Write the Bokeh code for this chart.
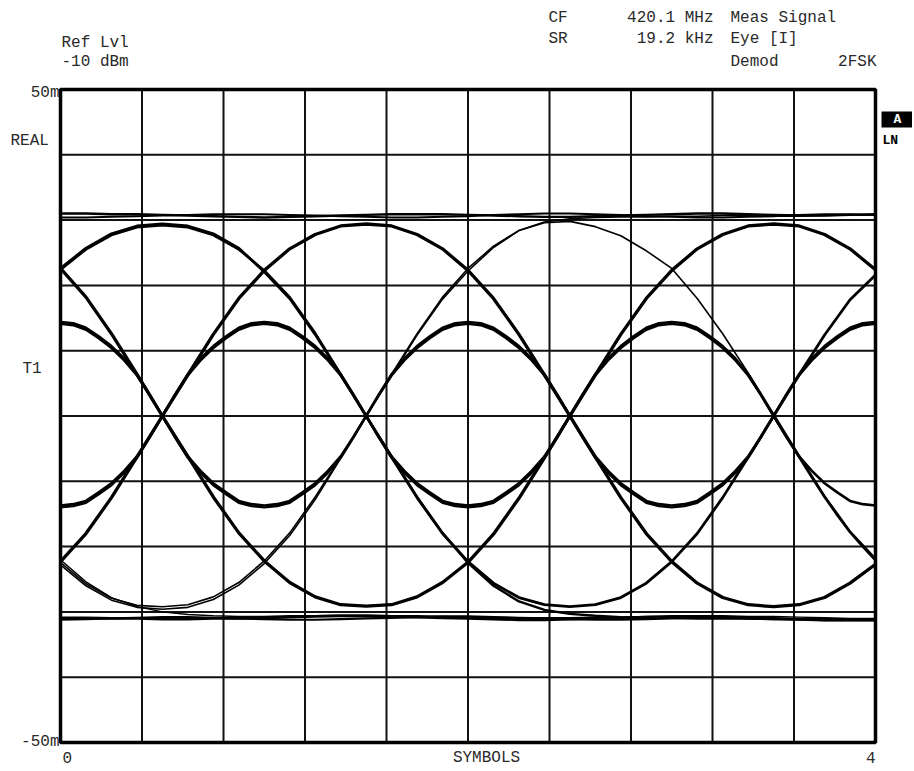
from bokeh.plotting import figure
from bokeh.models import Label, Range1d
from bokeh.embed import file_html
from bokeh.resources import INLINE

# ---------------- data ----------------
SYMBOL_TIME = [0.0, 0.125, 0.25, 0.375, 0.5, 0.625, 0.75, 0.875, 1.0, 1.125, 1.25,
               1.375, 1.5, 1.625, 1.75, 1.875, 2.0, 2.125, 2.25, 2.375, 2.5, 2.625,
               2.75, 2.875, 3.0, 3.125, 3.25, 3.375, 3.5, 3.625, 3.75, 3.875, 4.0]

SYMBOL_TIME_FINE = [0.0, 0.0625, 0.125, 0.1875, 0.25, 0.3125, 0.375, 0.4375, 0.5,
                    0.5625, 0.625, 0.6875, 0.75, 0.8125, 0.875, 0.9375, 1.0,
                    1.0625, 1.125, 1.1875, 1.25, 1.3125, 1.375, 1.4375, 1.5,
                    1.5625, 1.625, 1.6875, 1.75, 1.8125, 1.875, 1.9375, 2.0,
                    2.0625, 2.125, 2.1875, 2.25, 2.3125, 2.375, 2.4375, 2.5,
                    2.5625, 2.625, 2.6875, 2.75, 2.8125, 2.875, 2.9375, 3.0,
                    3.0625, 3.125, 3.1875, 3.25, 3.3125, 3.375, 3.4375, 3.5,
                    3.5625, 3.625, 3.6875, 3.75, 3.8125, 3.875, 3.9375, 4.0]

X_GRID = [0.0, 0.4, 0.8, 1.2, 1.6, 2.0, 2.4, 2.8, 3.2, 3.6, 4.0]
Y_GRID = [-50, -40, -30, -20, -10, 0, 10, 20, 30, 40, 50]

# outer arcs (mV), sampled on SYMBOL_TIME
outer_a = [22.6, 25.7, 27.9, 29.1, 29.4, 29.1, 27.9, 25.7, 22.1, 18.0, 12.5, 6.3, 0.0,
           -6.3, -12.5, -18.0, -22.3, -25.6, -27.8, -28.9, -29.2, -28.9, -27.8, -25.6,
           -22.3, -18.0, -12.5, -6.3, 0.0, 6.3, 12.4, 17.8, 21.6]
outer_a2 = [22.4, 25.5, 27.7, 28.9, 29.2, 28.9, 27.7, 25.5, 22.3, 18.2, 12.7, 6.4, 0.0,
            -6.2, -12.4, -17.9, -22.5, -26.0, -28.4, -29.7, -30.3, -30.6, -30.8, -30.9,
            -30.9, -31.0, -31.0, -31.0, -31.1, -31.1, -31.1, -31.2, -31.2]
outer_b = [-22.3, -18.0, -12.5, -6.3, 0.0, 6.3, 12.5, 18.0, 22.3, 25.6, 27.8, 29.1, 29.4,
           29.1, 27.8, 25.6, 22.3, 18.0, 12.5, 6.3, 0.0, -6.3, -12.5, -18.0, -22.3,
           -25.6, -27.8, -28.9, -29.2, -28.9, -27.8, -25.6, -22.7]
outer_c = [22.6, 18.2, 12.6, 6.4, 0.0, -6.2, -12.4, -17.9, -22.2, -25.5, -27.7, -28.9,
           -29.1, -28.9, -27.7, -25.5, -22.4, -18.1, -12.6, -6.4, 0.0, 6.3, 12.5, 18.0,
           22.3, 25.6, 27.8, 29.1, 29.4, 29.1, 27.8, 25.6, 22.4]
outer_d = [-22.4, -25.7, -27.9, -29.0, -29.2, -28.9, -27.7, -25.5, -22.2, -17.9, -12.4,
           -6.3, 0.0, 6.4, 12.6, 18.2, 22.6, 26.0, 28.4, 29.6, 29.8, 29.0, 27.6, 25.3,
           22.6, 18.0, 12.6, 6.6, 0.3, -6.0, -12.2, -17.6, -21.8]
outer_e = [-22.8, -26.0, -28.2, -29.3, -29.6, -29.3, -28.1, -25.9, -22.6, -18.3, -12.8,
           -6.5, 0.0, 6.2, 12.4, 17.9, 22.2, 25.8, 28.4, 29.7, 30.2, 30.4, 30.5, 30.5,
           30.6, 30.6, 30.7, 30.7, 30.6, 30.6, 30.7, 30.8, 30.8]
outer_f = [-22.0, -25.4, -27.8, -29.2, -30.0, -30.4, -30.6, -30.7, -30.7, -30.6, -30.6,
           -30.5, -30.5, -30.6, -30.6, -30.7, -30.8, -30.8, -30.9, -30.9, -30.9, -30.8,
           -30.8, -30.7, -30.7, -30.6, -30.6, -30.7, -30.7, -30.8, -30.9, -31.0, -31.0]

# flat levels (mV), sampled on SYMBOL_TIME
flat_top_a = [31.0, 31.0, 30.9, 30.9, 30.8, 30.7, 30.6, 30.5, 30.4, 30.5, 30.6, 30.7, 30.8,
              30.9, 30.9, 30.9, 30.8, 30.7, 30.6, 30.5, 30.5, 30.6, 30.7, 30.8, 30.9, 31.0,
              31.0, 30.9, 30.8, 30.7, 30.7, 30.8, 30.9]
flat_top_b = [30.4, 30.4, 30.5, 30.6, 30.7, 30.8, 30.9, 30.9, 30.9, 30.8, 30.7, 30.6, 30.5,
              30.4, 30.4, 30.5, 30.6, 30.8, 30.9, 31.0, 31.0, 30.9, 30.8, 30.6, 30.5, 30.4,
              30.4, 30.5, 30.6, 30.8, 30.9, 30.9, 30.8]
flat_bot_a = [-30.9, -30.9, -31.0, -31.0, -31.1, -31.1, -31.0, -31.0, -30.9, -30.8, -30.7,
              -30.6, -30.6, -30.7, -30.8, -30.9, -31.0, -31.1, -31.2, -31.2, -31.1, -31.0,
              -30.9, -30.8, -30.7, -30.7, -30.8, -30.9, -31.0, -31.1, -31.2, -31.2, -31.2]
flat_bot_b = [-31.2, -31.1, -31.0, -30.9, -30.8, -30.8, -30.9, -31.0, -31.1, -31.2, -31.2,
              -31.1, -31.0, -30.9, -30.8, -30.7, -30.7, -30.8, -30.9, -31.0, -31.1, -31.2,
              -31.2, -31.1, -31.0, -30.9, -30.9, -31.0, -31.1, -31.2, -31.3, -31.3, -31.3]

# inner arcs (mV), sampled on SYMBOL_TIME_FINE
inner_a = [14.4, 14.2, 13.5, 12.2, 10.7, 8.8, 6.4, 3.3, 0.0,
           -3.2, -6.2, -8.4, -10.3, -11.7, -13.0, -13.5, -13.7,
           -13.5, -13.0, -11.7, -10.3, -8.4, -6.2, -3.2, 0.0,
           3.3, 6.4, 8.8, 10.7, 12.2, 13.5, 14.2, 14.4,
           14.2, 13.5, 12.2, 10.7, 8.8, 6.4, 3.3, 0.0,
           -3.2, -6.2, -8.4, -10.3, -11.7, -13.0, -13.5, -13.7,
           -13.5, -13.0, -11.7, -10.3, -8.4, -6.2, -3.2, 0.0,
           3.3, 6.4, 8.8, 10.7, 12.2, 13.5, 14.2, 14.4]
inner_b = [14.1, 13.9, 13.2, 11.9, 10.4, 8.5, 6.2, 3.2, 0.0,
           -3.3, -6.4, -8.7, -10.6, -12.0, -13.3, -13.8, -14.0,
           -13.8, -13.3, -12.0, -10.6, -8.7, -6.4, -3.3, 0.0,
           3.2, 6.2, 8.5, 10.4, 11.9, 13.2, 13.9, 14.1,
           13.9, 13.2, 11.9, 10.4, 8.5, 6.2, 3.2, 0.0,
           -3.3, -6.4, -8.7, -10.6, -12.0, -13.3, -13.8, -14.0,
           -13.8, -13.3, -12.0, -10.6, -8.7, -6.4, -3.3, 0.0,
           3.2, 6.2, 8.5, 10.4, 11.9, 13.2, 13.9, 14.1]
inner_c = [-13.7, -13.5, -13.0, -11.7, -10.3, -8.4, -6.2, -3.2, 0.0,
           3.3, 6.4, 8.8, 10.7, 12.2, 13.5, 14.2, 14.4,
           14.2, 13.5, 12.2, 10.7, 8.8, 6.4, 3.3, 0.0,
           -3.2, -6.2, -8.4, -10.3, -11.7, -13.0, -13.5, -13.7,
           -13.5, -13.0, -11.7, -10.3, -8.4, -6.2, -3.2, 0.0,
           3.3, 6.4, 8.8, 10.7, 12.2, 13.5, 14.2, 14.4,
           14.2, 13.5, 12.2, 10.7, 8.8, 6.4, 3.3, 0.0,
           -3.2, -6.2, -8.4, -10.3, -11.7, -13.0, -13.5, -13.7]
inner_d = [-14.0, -13.8, -13.3, -12.0, -10.6, -8.7, -6.4, -3.3, 0.0,
           3.2, 6.2, 8.5, 10.4, 11.9, 13.2, 13.9, 14.1,
           13.9, 13.2, 11.9, 10.4, 8.5, 6.2, 3.2, 0.0,
           -3.3, -6.4, -8.7, -10.6, -12.0, -13.3, -13.8, -14.0,
           -13.8, -13.3, -12.0, -10.6, -8.7, -6.4, -3.3, 0.0,
           3.2, 6.2, 8.5, 10.4, 11.9, 13.2, 13.9, 14.1,
           13.9, 13.2, 11.9, 10.4, 8.5, 6.2, 3.2, 0.0,
           -3.2, -6.3, -9.4, -12.4, -15.2, -17.8, -20.0, -22.1]

TRACES = [
    (SYMBOL_TIME, flat_top_a, 2.4), (SYMBOL_TIME, flat_top_b, 2.0),
    (SYMBOL_TIME, flat_bot_a, 2.8), (SYMBOL_TIME, flat_bot_b, 2.2),
    (SYMBOL_TIME, outer_a, 2.8), (SYMBOL_TIME, outer_a2, 2.4),
    (SYMBOL_TIME, outer_b, 3.3), (SYMBOL_TIME, outer_c, 3.3),
    (SYMBOL_TIME, outer_d, 1.6), (SYMBOL_TIME, outer_e, 1.6), (SYMBOL_TIME, outer_f, 1.4),
    (SYMBOL_TIME_FINE, inner_a, 2.6), (SYMBOL_TIME_FINE, inner_b, 2.4),
    (SYMBOL_TIME_FINE, inner_c, 2.6), (SYMBOL_TIME_FINE, inner_d, 2.4),
]

# ---------------- layout (pixels of the 912x768 canvas) ----------------
W, H = 912, 768
PX_LEFT, PX_RIGHT, PX_TOP, PX_BOTTOM = 60.0, 875.0, 89.0, 742.0
x_scale = (PX_RIGHT - PX_LEFT) / (X_GRID[-1] - X_GRID[0])
y_scale = (PX_BOTTOM - PX_TOP) / (Y_GRID[-1] - Y_GRID[0])
x_start = X_GRID[0] - PX_LEFT / x_scale
x_end = X_GRID[-1] + (W - PX_RIGHT) / x_scale
y_end = Y_GRID[-1] + PX_TOP / y_scale
y_start = Y_GRID[0] - (H - PX_BOTTOM) / y_scale


def data_x(px):
    return x_start + px / x_scale


def data_y(py):
    return y_end - py / y_scale


p = figure(width=W, height=H, output_backend="svg", toolbar_location=None,
           x_range=Range1d(x_start, x_end), y_range=Range1d(y_start, y_end),
           x_axis_location=None, y_axis_location=None,
           min_border=0, min_border_left=0, min_border_right=0,
           min_border_top=0, min_border_bottom=0,
           background_fill_color="white", border_fill_color="white")
p.outline_line_color = None
p.xgrid.visible = False
p.ygrid.visible = False

# graticule
n_x = len(X_GRID)
n_y = len(Y_GRID)
p.segment(x0=X_GRID, y0=[Y_GRID[0]] * n_x, x1=X_GRID, y1=[Y_GRID[-1]] * n_x,
          line_color="#111111", line_width=2.0)
p.segment(x0=[X_GRID[0]] * n_y, y0=Y_GRID, x1=[X_GRID[-1]] * n_y, y1=Y_GRID,
          line_color="#111111", line_width=2.0)

# eye traces
for ts, vals, w in TRACES:
    p.line(ts, vals, line_color="black", line_width=w, line_join="round")

# diagram frame
p.quad(left=X_GRID[0], right=X_GRID[-1], bottom=Y_GRID[0], top=Y_GRID[-1],
       fill_color=None, line_color="black", line_width=3.5)

# trace badge "A" box
p.quad(left=data_x(881), right=data_x(912), top=data_y(111), bottom=data_y(127),
       fill_color="black", line_color=None)

FONT = "Liberation Mono"
TXT = "#2a2a2a"

texts = [
    ("Ref Lvl", 61, 42, "left"), ("-10 dBm", 61, 61, "left"),
    ("CF", 548, 17, "left"), ("420.1 MHz", 713, 17, "right"), ("Meas Signal", 730, 17, "left"),
    ("SR", 548, 38, "left"), ("19.2 kHz", 713, 38, "right"), ("Eye [I]", 730, 38, "left"),
    ("Demod", 730, 61, "left"), ("2FSK", 876, 61, "right"),
    ("50m", 59, 92, "right"), ("REAL", 10, 140, "left"), ("T1", 22, 368, "left"),
    ("-50m", 59, 741, "right"),
    ("0", 62, 757, "left"), ("SYMBOLS", 486, 757, "center"), ("4", 875, 757, "right"),
]
for t, px, py, al in texts:
    p.add_layout(Label(x=px, y=H - py, x_units="screen", y_units="screen", text=t,
                       text_font=FONT, text_font_size="16px", text_color=TXT,
                       text_align=al, text_baseline="middle"))

p.add_layout(Label(x=897, y=H - 119, x_units="screen", y_units="screen", text="A",
                   text_font=FONT, text_font_size="13px", text_font_style="bold",
                   text_color="white", text_align="center", text_baseline="middle"))
p.add_layout(Label(x=882, y=H - 140, x_units="screen", y_units="screen", text="LN",
                   text_font=FONT, text_font_size="13px", text_font_style="bold",
                   text_color="black", text_align="left", text_baseline="middle"))

open("out.html", "w").write(file_html(p, INLINE))
